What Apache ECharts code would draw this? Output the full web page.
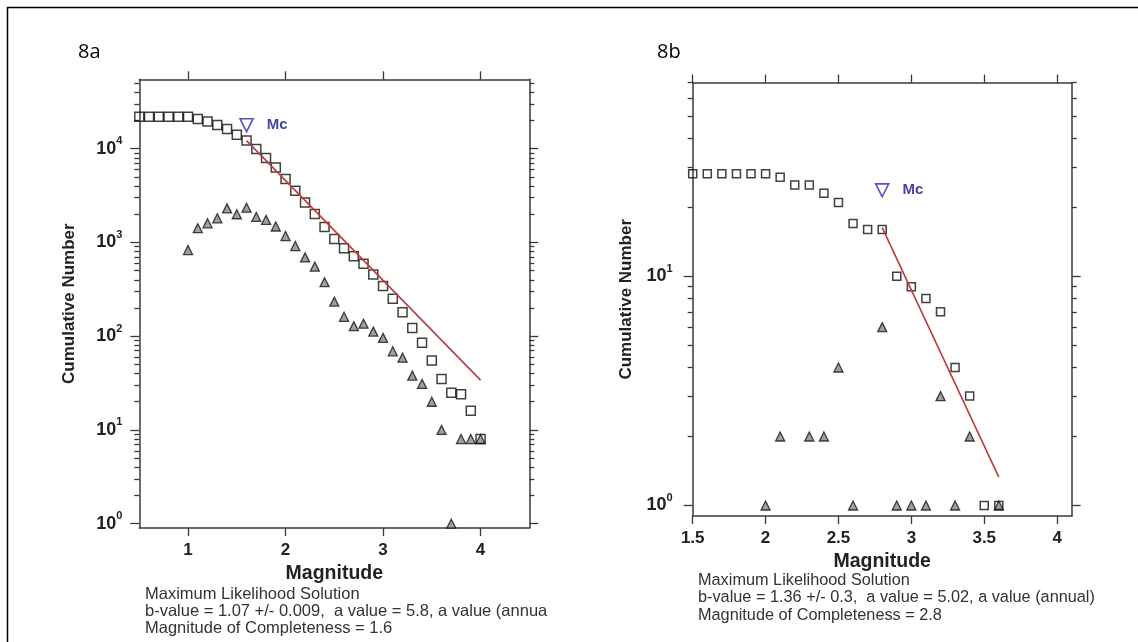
<!DOCTYPE html>
<html>
<head>
<meta charset="utf-8">
<script src="https://cdn.jsdelivr.net/npm/echarts@6/dist/echarts.min.js"></script>
<style>html,body{margin:0;padding:0;background:#fff}#chart{width:1138px;height:642px}</style>
</head>
<body>
<div id="chart"></div>
<script>
// ---- 8a ----
const magA = [0.5,0.6,0.7,0.8,0.9,1.0,1.1,1.2,1.3,1.4,1.5,1.6,1.7,1.8,1.9,2.0,2.1,2.2,2.3,2.4,2.5,2.6,2.7,2.8,2.9,3.0,3.1,3.2,3.3,3.4,3.5,3.6,3.7,3.8,3.9,4.0];
const cumA = [21900,21900,21900,21900,21900,21900,20800,19500,17900,16200,14100,12200,9930,7950,6320,4750,3560,2670,2010,1460,1090,870,712,593,456,344,251,180,122,85,55,35,25,24,16,8];
const triMagA = [1.0,1.1,1.2,1.3,1.4,1.5,1.6,1.7,1.8,1.9,2.0,2.1,2.2,2.3,2.4,2.5,2.6,2.7,2.8,2.9,3.0,3.1,3.2,3.3,3.4,3.5,3.6,3.7,3.8,3.9,4.0];
const countA = [830,1420,1600,1810,2310,2000,2350,1870,1740,1480,1170,915,693,552,377,234,161,128,136,112,96,69,59,38,31,20,10,1,8,8,8];
const fitA = [[1.6, 12200], [4.0, 34]];
const mcA = [[1.6, 17800]];
const xTicksA = [1, 2, 3, 4];
const yMajorA = [1, 10, 100, 1000, 10000];
const yMinorA = [2,3,4,5,6,7,8,9, 20,30,40,50,60,70,80,90, 200,300,400,500,600,700,800,900,
                 2000,3000,4000,5000,6000,7000,8000,9000, 20000,30000,40000,50000];
const textoA = 'Maximum Likelihood Solution\nb-value = 1.07 +/- 0.009,  a value = 5.8, a value (annua\nMagnitude of Completeness = 1.6';

// ---- 8b ----
const magB = [1.5,1.6,1.7,1.8,1.9,2.0,2.1,2.2,2.3,2.4,2.5,2.6,2.7,2.8,2.9,3.0,3.1,3.2,3.3,3.4,3.5,3.6];
const cumB = [28,28,28,28,28,28,27,25,25,23,21,17,16,16,10,9,8,7,4,3,1,1];
const triMagB = [2.0,2.1,2.3,2.4,2.5,2.6,2.8,2.9,3.0,3.1,3.2,3.3,3.4,3.6];
const countB = [1,2,2,2,4,1,6,1,1,1,3,1,2,1];
const fitB = [[2.8, 16.3], [3.6, 1.33]];
const mcB = [[2.8, 23.7]];
const xTicksB = [1.5, 2, 2.5, 3, 3.5, 4];
const yMajorB = [1, 10];
const yMinorB = [2,3,4,5,6,7,8,9, 20,30,40,50,60,70];
const textoB = 'Maximum Likelihood Solution\nb-value = 1.36 +/- 0.3,  a value = 5.02, a value (annual)\nMagnitude of Completeness = 2.8';

const FUENTE = 'Liberation Sans';
const EJE = '#3a3a3a';
const TINTA = '#222';

function pares(xs, ys) { return xs.map((x, i) => [x, ys[i]]); }

function ejes(g, xr, xTicks, yr, yMajor, yMinor, cfg) {
  const linea = { show: true, onZero: false, lineStyle: { color: EJE, width: 1.5 } };
  const tick = (vals, len) => ({ show: true, customValues: vals, length: len, lineStyle: { color: EJE, width: 1.3 } });
  const base = { gridIndex: g, splitLine: { show: false }, axisLine: linea };
  const xs = [
    Object.assign({}, base, { type: 'value', position: 'bottom', min: xr[0], max: xr[1],
      axisTick: tick(xTicks, 8),
      axisLabel: { customValues: xTicks, margin: 14, fontSize: 17, fontWeight: 'bold', color: TINTA, fontFamily: FUENTE },
      name: 'Magnitude', nameLocation: 'middle', nameGap: cfg.gapX,
      nameTextStyle: { fontSize: 19.5, fontWeight: 'bold', color: TINTA, fontFamily: FUENTE } }),
    Object.assign({}, base, { type: 'value', position: 'top', min: xr[0], max: xr[1],
      axisTick: tick(xTicks, 8), axisLabel: { show: false } })
  ];
  const ys = [
    Object.assign({}, base, { type: 'log', position: 'left', min: yr[0], max: yr[1],
      axisTick: tick(yMajor, 9),
      axisLabel: { customValues: yMajor, margin: cfg.margenY,
        formatter: v => '{b|10}{s|' + Math.round(Math.log10(v)) + '}',
        rich: {
          b: { fontSize: 18, fontWeight: 'bold', color: TINTA, fontFamily: FUENTE, lineHeight: 26 },
          s: { fontSize: 11, fontWeight: 'bold', color: TINTA, fontFamily: FUENTE, lineHeight: 12, verticalAlign: 'top' }
        } },
      name: 'Cumulative Number', nameLocation: 'middle', nameGap: cfg.gapY, nameRotate: 90,
      nameTextStyle: { fontSize: 17, fontWeight: 'bold', color: TINTA, fontFamily: FUENTE } }),
    Object.assign({}, base, { type: 'log', position: 'left', min: yr[0], max: yr[1],
      axisLine: { show: false }, axisTick: tick(yMinor, 5), axisLabel: { show: false } }),
    Object.assign({}, base, { type: 'log', position: 'right', min: yr[0], max: yr[1],
      axisTick: tick(yMajor, 9), axisLabel: { show: false } }),
    Object.assign({}, base, { type: 'log', position: 'right', min: yr[0], max: yr[1],
      axisLine: { show: false }, axisTick: tick(yMinor, 5), axisLabel: { show: false } })
  ];
  return { xs, ys };
}

function series(xi, yi, cuadros, triangulos, ajuste, mc, tam) {
  return [
    { type: 'scatter', xAxisIndex: xi, yAxisIndex: yi, data: triangulos, symbol: 'triangle', symbolSize: 9,
      itemStyle: { color: '#888', borderColor: '#151515', borderWidth: 1.3 }, z: 3 },
    { type: 'scatter', xAxisIndex: xi, yAxisIndex: yi, data: cuadros, symbol: 'rect', symbolSize: tam,
      itemStyle: { color: 'rgba(0,0,0,0)', borderColor: '#111', borderWidth: 1.5 }, z: 4 },
    { type: 'line', xAxisIndex: xi, yAxisIndex: yi, data: ajuste, symbol: 'none',
      lineStyle: { color: '#c0393b', width: 1.6 }, z: 5 },
    { type: 'scatter', xAxisIndex: xi, yAxisIndex: yi, data: mc, symbol: 'triangle', symbolRotate: 180, symbolSize: 13,
      itemStyle: { color: 'rgba(0,0,0,0)', borderColor: '#2828b8', borderWidth: 1.6 }, z: 6,
      label: { show: true, formatter: 'Mc', position: 'right', distance: 13, color: '#14148a',
               fontSize: 15, fontWeight: 'bold', fontFamily: FUENTE, textBorderWidth: 0 } }
  ];
}

const a = ejes(0, [0.5, 4.5], xTicksA, [0.9, 55000], yMajorA, yMinorA, { gapX: 35, gapY: 61, margenY: 17 });
const b = ejes(1, [1.5, 4.1], xTicksB, [0.9, 70], yMajorB, yMinorB, { gapX: 34, gapY: 58, margenY: 20 });

const chart = echarts.init(document.getElementById('chart'), null, { renderer: 'canvas' });
chart.setOption({
  animation: false,
  backgroundColor: '#fff',
  textStyle: { fontFamily: FUENTE },
  grid: [
    { left: 139.3, top: 79.3, width: 390, height: 448.7 },
    { left: 692.7, top: 82.5, width: 379, height: 433.5 }
  ],
  xAxis: a.xs.concat(b.xs),
  yAxis: a.ys.concat(b.ys),
  series: series(0, 0, pares(magA, cumA), pares(triMagA, countA), fitA, mcA, 9)
    .concat(series(2, 4, pares(magB, cumB), pares(triMagB, countB), fitB, mcB, 8)),
  graphic: [
    { type: 'rect', silent: true, shape: { x: 7.5, y: 7.5, width: 1300, height: 800 },
      style: { fill: 'none', stroke: '#000', lineWidth: 1.5 } },
    { type: 'text', x: 78, y: 52, style: { text: '8a', fontSize: 20, fontFamily: 'Open Sans', fill: '#000', verticalAlign: 'middle' } },
    { type: 'text', x: 657, y: 52, style: { text: '8b', fontSize: 20, fontFamily: 'Open Sans', fill: '#000', verticalAlign: 'middle' } },
    { type: 'text', x: 145, y: 585.5, style: { text: textoA, fontSize: 16.5, lineHeight: 17, fontFamily: FUENTE, fill: '#333' } },
    { type: 'text', x: 698, y: 571.5, style: { text: textoB, fontSize: 16.3, lineHeight: 17.5, fontFamily: FUENTE, fill: '#333' } }
  ]
});
</script>
</body>
</html>
